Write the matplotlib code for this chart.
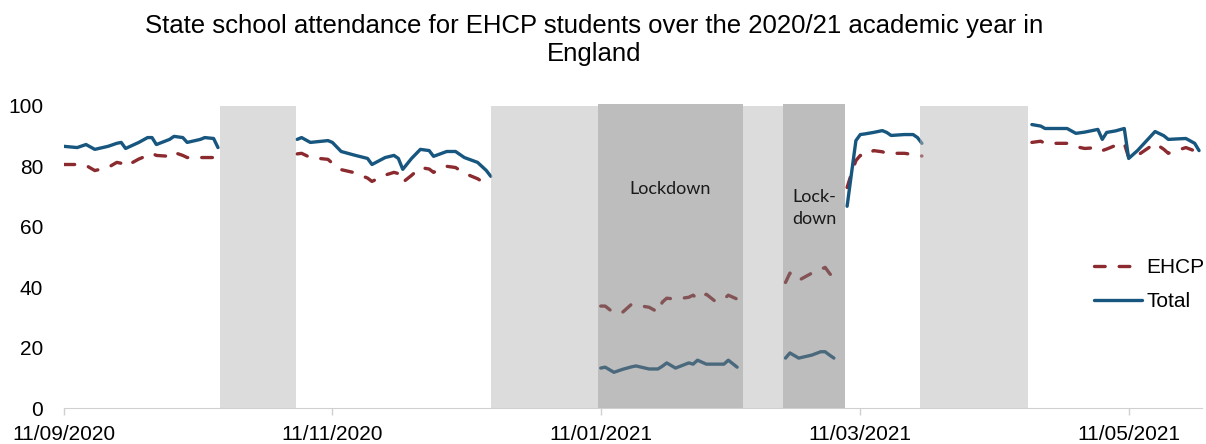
import numpy as np
import pandas as pd
import matplotlib
matplotlib.use('Agg')
import matplotlib.pyplot as plt
import matplotlib.dates as mdates

plt.rcParams['font.family'] = ['Liberation Sans', 'DejaVu Sans']

# autumn term, first half
aut1_dates = ['2020-09-11', '2020-09-14', '2020-09-16', '2020-09-18', '2020-09-21', '2020-09-23',
              '2020-09-24', '2020-09-25', '2020-09-28', '2020-09-30', '2020-10-01', '2020-10-02',
              '2020-10-05', '2020-10-06', '2020-10-08', '2020-10-09', '2020-10-12', '2020-10-13',
              '2020-10-15', '2020-10-16']
aut1_total = [86.5, 86.1, 87.1, 85.5, 86.5, 87.5, 87.8, 85.8, 87.8, 89.4, 89.4, 87.1,
              88.8, 89.8, 89.4, 87.8, 88.8, 89.4, 89.1, 86.1]
aut1_ehcp = [80.5, 80.5, 80.2, 78.5, 79.5, 81.2, 80.9, 79.9, 82.3, 83.5, 84.2, 83.5,
             83.2, 84.5, 83.5, 82.8, 82.8, 82.8, 82.8, 80.9]

# autumn term, second half
aut2_dates = ['2020-11-03', '2020-11-04', '2020-11-06', '2020-11-10', '2020-11-11', '2020-11-13',
              '2020-11-16', '2020-11-19', '2020-11-20', '2020-11-23', '2020-11-25', '2020-11-26',
              '2020-11-27', '2020-11-29', '2020-12-01', '2020-12-03', '2020-12-04', '2020-12-07',
              '2020-12-09', '2020-12-11', '2020-12-14', '2020-12-16', '2020-12-17']
aut2_total = [88.8, 89.4, 87.8, 88.4, 87.8, 84.8, 83.6, 82.5, 80.5, 82.8, 83.5, 82.5,
              78.9, 82.5, 85.5, 85.1, 83.2, 84.8, 84.8, 82.8, 81.2, 78.5, 76.6]
aut2_ehcp = [84.0, 84.2, 82.8, 82.2, 80.9, 78.8, 77.8, 76.0, 74.9, 77.0, 77.9, 77.5,
             74.6, 76.9, 79.5, 79.0, 77.9, 79.9, 79.5, 77.6, 75.8, 74.0, 72.9]

# january lockdown
lock1_dates = ['2021-01-11', '2021-01-12', '2021-01-14', '2021-01-16', '2021-01-18', '2021-01-19',
               '2021-01-22', '2021-01-24', '2021-01-25', '2021-01-26', '2021-01-28', '2021-01-31',
               '2021-02-01', '2021-02-02', '2021-02-04', '2021-02-06', '2021-02-08', '2021-02-09',
               '2021-02-11']
lock1_total = [13.2, 13.5, 11.8, 12.8, 13.6, 13.9, 12.9, 12.9, 13.8, 14.9, 13.2, 14.9,
               14.5, 15.8, 14.5, 14.5, 14.5, 15.8, 13.5]
lock1_ehcp = [33.7, 33.7, 31.4, 31.7, 34.3, 34.0, 33.3, 31.7, 35.0, 36.3, 36.0, 36.6,
              37.3, 36.0, 37.6, 35.3, 36.0, 37.3, 36.0]

# lockdown after february half term
lock2_dates = ['2021-02-22', '2021-02-23', '2021-02-25', '2021-02-28', '2021-03-02', '2021-03-03',
               '2021-03-04', '2021-03-05']
lock2_total = [16.5, 18.2, 16.5, 17.5, 18.6, 18.6, 17.5, 16.5]
lock2_ehcp = [41.5, 44.6, 42.2, 44.6, 45.8, 46.5, 44.5, 42.9]

# march reopening
spr_dates = ['2021-03-08', '2021-03-09', '2021-03-10', '2021-03-11', '2021-03-12', '2021-03-14',
             '2021-03-16', '2021-03-17', '2021-03-18', '2021-03-21', '2021-03-23', '2021-03-24',
             '2021-03-25']
spr_total = [66.7, 77.6, 88.4, 90.4, 90.6, 91.1, 91.7, 91.1, 90.1, 90.4, 90.4, 89.4, 87.5]
spr_ehcp = [72.9, 77.6, 81.8, 83.5, 83.2, 85.1, 84.7, 84.2, 84.2, 84.2, 83.8, 83.5, 83.3]

# summer term
sum_dates = ['2021-04-19', '2021-04-21', '2021-04-22', '2021-04-24', '2021-04-27', '2021-04-29',
             '2021-05-01', '2021-05-04', '2021-05-05', '2021-05-06', '2021-05-08', '2021-05-10',
             '2021-05-11', '2021-05-13', '2021-05-17', '2021-05-19', '2021-05-20', '2021-05-24',
             '2021-05-26', '2021-05-27']
sum_total = [93.7, 93.2, 92.4, 92.4, 92.4, 90.8, 91.2, 92.1, 88.8, 91.1, 91.6, 92.4,
             82.5, 85.1, 91.4, 90.0, 88.8, 89.1, 87.5, 85.1]
sum_ehcp = [87.8, 88.2, 87.5, 87.5, 87.5, 86.4, 85.8, 86.1, 85.1, 85.6, 86.8, 87.5,
            82.8, 83.5, 87.5, 85.5, 84.2, 86.1, 85.0, 84.5]

# shaded periods (start, end)
holidays = [('2020-10-16 12:00', '2020-11-02 16:00'),
            ('2020-12-17 00:00', '2021-01-10 10:00'),
            ('2021-02-12 07:00', '2021-02-21 10:00'),
            ('2021-03-24 12:00', '2021-04-18 02:00')]
lockdowns = [('2021-01-10 10:00', '2021-02-12 07:00'),
             ('2021-02-21 10:00', '2021-03-07 12:00')]
lockdown_labels = ['Lockdown', 'Lock-\ndown']

xticks = ['2020-09-11', '2020-11-11', '2021-01-11', '2021-03-11', '2021-05-11']

total_col = '#17567f'
ehcp_col = '#8b2a2f'

fig = plt.figure(figsize=(12.06, 4.44), dpi=100)
ax_w = (1202 - 64) / 1206
ax = fig.add_axes([64 / 1206, 36 / 444, ax_w, (408 - 104) / 444])

terms = [(aut1_dates, aut1_total, aut1_ehcp), (aut2_dates, aut2_total, aut2_ehcp),
         (lock1_dates, lock1_total, lock1_ehcp), (lock2_dates, lock2_total, lock2_ehcp),
         (spr_dates, spr_total, spr_ehcp), (sum_dates, sum_total, sum_ehcp)]
for i, (d, t, e) in enumerate(terms):
    d = pd.to_datetime(d)
    ax.plot(d, e, color=ehcp_col, lw=2.4, dashes=(3.2, 4.2), dash_capstyle='round',
            label='EHCP' if i == 0 else None, zorder=2)
    ax.plot(d, t, color=total_col, lw=2.4, solid_capstyle='round',
            label='Total' if i == 0 else None, zorder=2)

for s, e in holidays:
    ax.axvspan(pd.Timestamp(s), pd.Timestamp(e), ymin=0, ymax=100 / 100.5,
               color='#bbbbbb', alpha=0.5, lw=0, zorder=3)
for (s, e), lab in zip(lockdowns, lockdown_labels):
    s, e = pd.Timestamp(s), pd.Timestamp(e)
    ax.axvspan(s, e, ymin=0, ymax=1, color='#7d7d7d', alpha=0.5, lw=0, zorder=3)
    ax.text(s + (e - s) / 2, 72.3 if '\n' not in lab else 66.1, lab, ha='center', va='center',
            fontsize=13, family=['Lato', 'DejaVu Sans'], color='#1a1a1a',
            linespacing=1.4, zorder=4)

ax.set_ylim(0, 100.5)
ax.set_xlim(pd.Timestamp('2020-09-11'), pd.Timestamp('2021-05-27 16:00'))
ax.set_yticks([0, 20, 40, 60, 80, 100])
ax.set_xticks(pd.to_datetime(xticks))
ax.xaxis.set_major_formatter(mdates.DateFormatter('%d/%m/%Y'))
ax.tick_params(axis='y', length=0, pad=15, labelsize=15)
ax.tick_params(axis='x', length=5, width=1, color='#d0d0d0', pad=7, labelsize=15)
for sp in ['top', 'right', 'left']:
    ax.spines[sp].set_visible(False)
ax.spines['bottom'].set_color('#d0d0d0')

ax.legend(loc='center left', bbox_to_anchor=((1086 - 64) / 1206 / ax_w, 0.406),
          frameon=False, fontsize=15, handlelength=2.3, handletextpad=0.2, labelspacing=0.7,
          borderaxespad=0)

fig.text(594 / 1206, 1 - 40 / 444,
         'State school attendance for EHCP students over the 2020/21 academic year in\nEngland',
         ha='center', va='center', fontsize=18.5, linespacing=1.2)

plt.savefig('out.png', dpi=100)
